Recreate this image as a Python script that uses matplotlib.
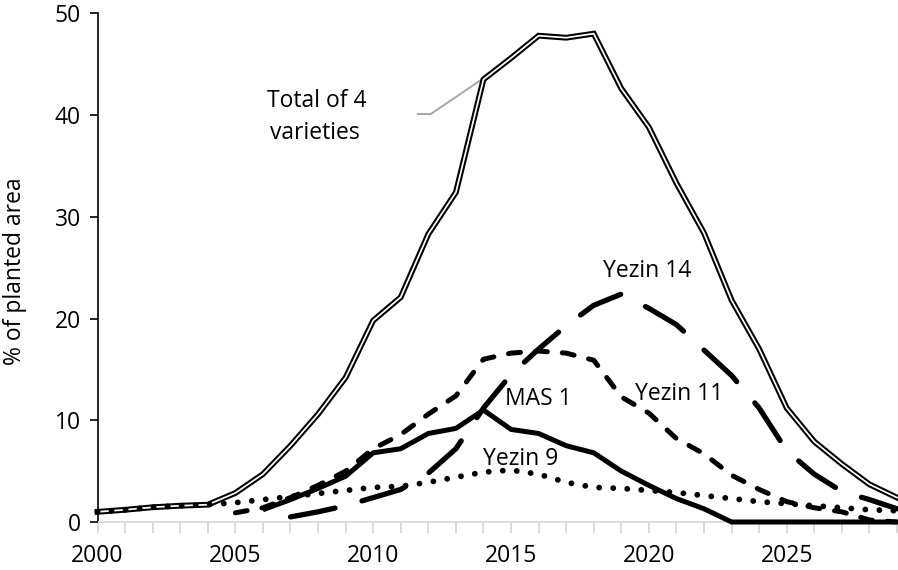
import numpy as np
import matplotlib
matplotlib.use("Agg")
import matplotlib.pyplot as plt

plt.rcParams['font.family'] = ['Open Sans', 'DejaVu Sans']

nan = np.nan
years = list(range(2000, 2030))
total = [1.0, 1.2, 1.45, 1.6, 1.7, 2.85, 4.7, 7.5, 10.6, 14.2, 19.8, 22.1, 28.3, 32.4, 43.5,
         45.6, 47.8, 47.6, 48.0, 42.6, 38.8, 33.3, 28.4, 21.8, 17.0, 11.2, 7.9, 5.7, 3.7, 2.4]
yezin9 = [1.0, 1.2, 1.45, 1.6, 1.7, 1.9, 2.2, 2.5, 2.8, 3.1, 3.4, 3.5, 3.9, 4.4, 4.9,
          5.1, 4.7, 3.9, 3.4, 3.3, 3.1, 2.9, 2.6, 2.3, 2.0, 1.8, 1.6, 1.4, 1.2, 1.1]
yezin11 = [nan, nan, nan, nan, nan, 0.9, 1.4, 2.4, 3.6, 5.0, 7.2, 8.6, 10.6, 12.4, 16.0,
           16.6, 16.8, 16.6, 15.9, 12.3, 10.7, 8.2, 6.7, 4.6, 3.2, 2.0, 1.4, 1.0, 0.2, 0.0]
mas1 = [nan, nan, nan, nan, nan, nan, 1.2, 2.2, 3.3, 4.5, 6.8, 7.2, 8.7, 9.2, 11.0,
        9.1, 8.7, 7.5, 6.8, 5.0, 3.6, 2.3, 1.3, 0.0, 0.0, 0.0, 0.0, 0.0, 0.0, 0.0]
yezin14 = [nan, nan, nan, nan, nan, nan, nan, 0.5, 1.0, 1.6, 2.4, 3.2, 4.8, 7.2, 11.2,
           14.5, 17.0, 19.3, 21.3, 22.4, 21.0, 19.4, 16.9, 14.4, 11.2, 7.0, 4.7, 3.0, 2.2, 1.3]

xtick_labels = ['2000', '2005', '2010', '2015', '2020', '2025']

fig = plt.figure(figsize=(8.98, 5.70), dpi=100)
ax = fig.add_axes([97.5 / 898, 1 - 522 / 570, (897 - 97.5) / 898, (522 - 13.3) / 570])

LW = 3.6
# Total: double line
ax.plot(years, total, color='black', lw=4.2, solid_joinstyle='miter', clip_on=False, zorder=2)
ax.plot(years, total, color='white', lw=1.25, solid_joinstyle='miter', clip_on=False, zorder=2.1)

ax.plot(years, mas1, color='black', lw=LW, solid_capstyle='butt', clip_on=False, zorder=3)
ax.plot(years, yezin11, color='black', lw=LW, dashes=(2.4, 3.0), dash_capstyle='round',
        clip_on=False, zorder=3)
ax.plot(years, yezin14, color='black', lw=3.8, dashes=(8.6, 5.3), dash_capstyle='round',
        clip_on=False, zorder=3)
ax.plot(years, yezin9, color='black', lw=4.2, dashes=(0.01, 2.4), dash_capstyle='round',
        clip_on=False, zorder=3)

# leader line for total annotation
ax.plot([2011.62, 2012.09, 2013.94], [40.1, 40.1, 43.5], color='#A6A6A6', lw=1.4, zorder=1.5)

fs = 16.5
ax.text(2007.95, 40.8, 'Total of 4', ha='center', va='baseline', fontsize=fs)
ax.text(2007.9, 37.6, 'varieties', ha='center', va='baseline', fontsize=fs)
ax.text(2019.95, 24.1, 'Yezin 14', ha='center', va='baseline', fontsize=fs)
ax.text(2021.09, 12.0, 'Yezin 11', ha='center', va='baseline', fontsize=fs)
ax.text(2015.99, 11.5, 'MAS 1', ha='center', va='baseline', fontsize=fs)
ax.text(2015.34, 5.6, 'Yezin 9', ha='center', va='baseline', fontsize=fs)

ax.set_xlim(2000, 2029)
ax.set_ylim(0, 50)
ax.set_yticks([0, 10, 20, 30, 40, 50])
ax.set_xticks(years)
ax.set_xticklabels([str(y) if str(y) in xtick_labels else '' for y in years])

for s in ['top', 'right']:
    ax.spines[s].set_visible(False)
ax.spines['left'].set_color('black')
ax.spines['left'].set_linewidth(1.2)
ax.spines['bottom'].set_color('#D9D9D9')
ax.spines['bottom'].set_linewidth(1.4)
ax.spines['left'].set_zorder(1)
ax.spines['bottom'].set_zorder(1)

ax.tick_params(axis='y', direction='out', length=6, width=1.2, color='black',
               labelsize=fs, pad=6)
ax.tick_params(axis='x', direction='out', length=8, width=1.4, color='#D9D9D9',
               labelcolor='black', labelsize=fs, pad=8)

fig.text(15 / 898, 1 - 271 / 570, '% of planted area', rotation=90, ha='center', va='center',
         fontsize=fs)

fig.savefig('out.png', dpi=100)
